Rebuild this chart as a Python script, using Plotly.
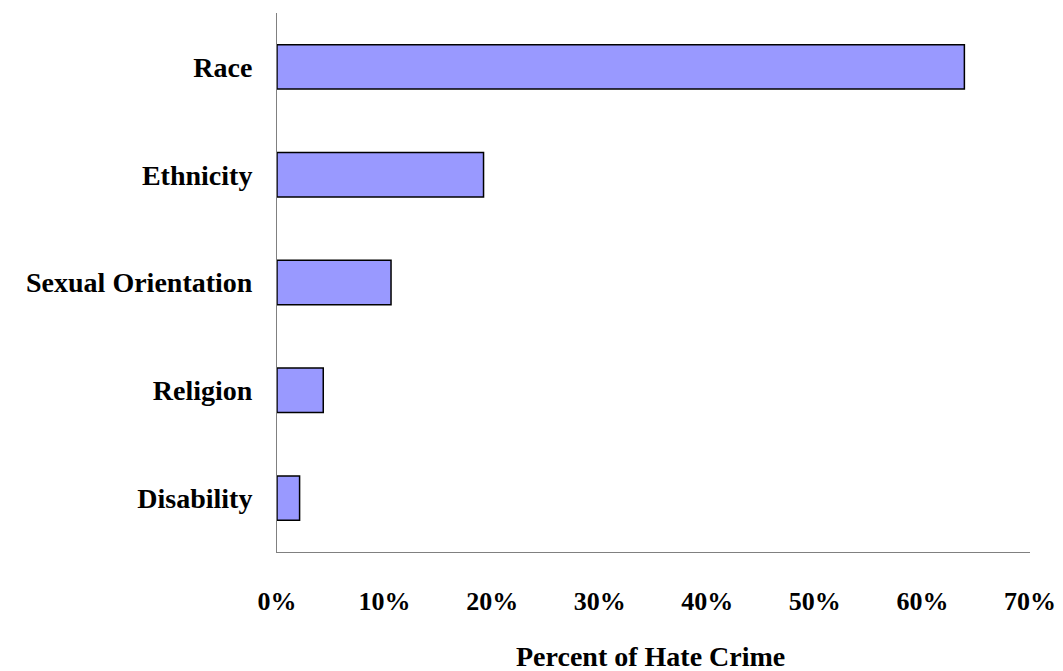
import plotly.graph_objects as go

categories = ["Race", "Ethnicity", "Sexual Orientation", "Religion", "Disability"]
values = [63.9, 19.2, 10.6, 4.3, 2.1]
tick_vals = [0, 10, 20, 30, 40, 50, 60, 70]
tick_text = ["0%", "10%", "20%", "30%", "40%", "50%", "60%", "70%"]

font_family = "Liberation Serif, Times New Roman, serif"

fig = go.Figure(
    go.Bar(
        y=categories,
        x=values,
        orientation="h",
        marker=dict(color="#9999FF", line=dict(color="black", width=1.5)),
    )
)

fig.update_layout(
    width=1063,
    height=671,
    margin=dict(l=277, r=33, t=13, b=119),
    plot_bgcolor="white",
    paper_bgcolor="white",
    bargap=0.588,
    showlegend=False,
    font=dict(family=font_family, color="black"),
)

fig.update_xaxes(
    range=[0, 70],
    tickvals=tick_vals,
    ticktext=tick_text,
    showgrid=False,
    zeroline=False,
    showline=True,
    linecolor="#808080",
    linewidth=1,
    ticks="",
    automargin=False,
    tickfont=dict(family=font_family, size=26, color="black", weight="bold"),
    ticklabelstandoff=26,
)

fig.update_yaxes(
    categoryorder="array",
    categoryarray=categories[::-1],
    showgrid=False,
    zeroline=False,
    showline=True,
    linecolor="#808080",
    linewidth=1,
    ticks="",
    automargin=False,
    tickfont=dict(family=font_family, size=28, color="black", weight="bold"),
    ticklabelstandoff=18,
)

fig.add_annotation(
    text="Percent of Hate Crime",
    xref="paper",
    yref="paper",
    x=(650 - 277) / (1030 - 277),
    y=-(656 - 552) / (552 - 13),
    xanchor="center",
    yanchor="middle",
    showarrow=False,
    font=dict(family=font_family, size=28, color="black", weight="bold"),
)

fig.write_html("out.html")
